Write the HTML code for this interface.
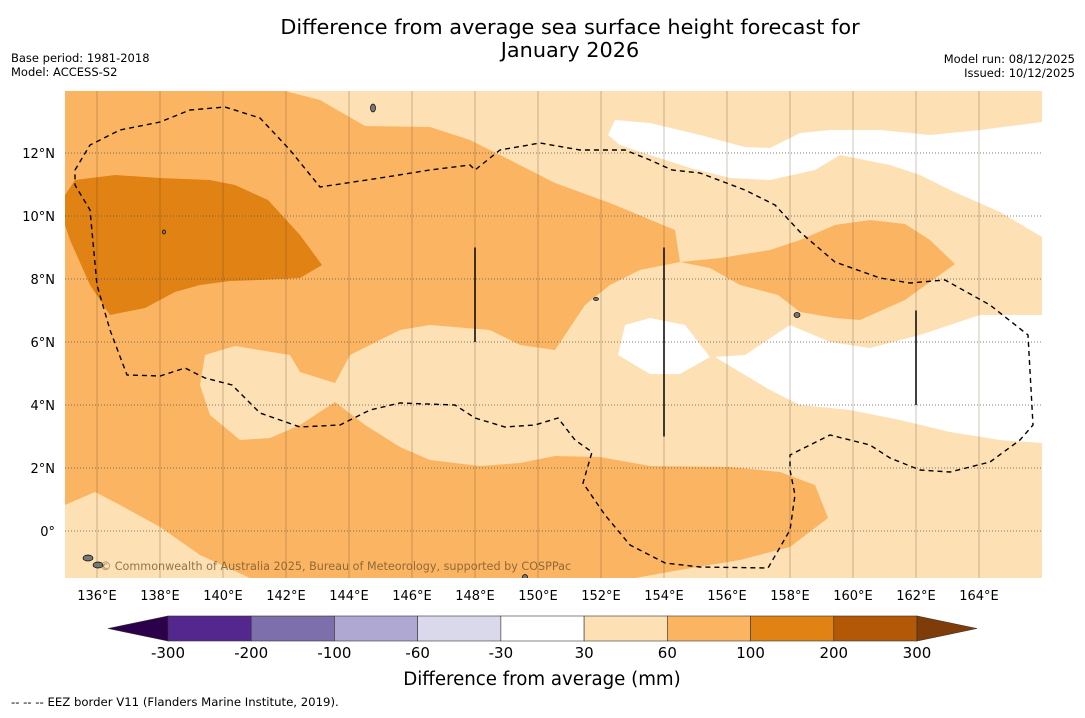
<!DOCTYPE html>
<html><head><meta charset="utf-8">
<style>
body{margin:0;background:#fff;width:1085px;height:713px;overflow:hidden;font-family:"Liberation Sans","DejaVu Sans",sans-serif;}
svg text{font-family:"DejaVu Sans","Liberation Sans",sans-serif;}
</style></head>
<body>
<svg id="c" width="1085" height="713">
<text x="570" y="34" text-anchor="middle" font-size="20.8">Difference from average sea surface height forecast for</text>
<text x="570" y="57" text-anchor="middle" font-size="20.8">January 2026</text>
<text x="11" y="62" font-size="11.5">Base period: 1981-2018</text>
<text x="11" y="76" font-size="11.5">Model: ACCESS-S2</text>
<text x="1075" y="63" font-size="11.5" text-anchor="end">Model run: 08/12/2025</text>
<text x="1075" y="77" font-size="11.5" text-anchor="end">Issued: 10/12/2025</text>
<defs><clipPath id="mapclip"><rect x="65" y="91" width="977" height="487"/></clipPath></defs>
<g id="map" clip-path="url(#mapclip)"></g>
<g id="axes"></g>
<g id="cbar"></g>
<text x="542" y="685" text-anchor="middle" font-size="18.2">Difference from average (mm)</text>
<text x="11" y="706" font-size="11.7">--  --  -- EEZ border V11 (Flanders Marine Institute, 2019).</text>
</svg>
<script>
const lonTicks=[136,138,140,142,144,146,148,150,152,154,156,158,160,162,164];
const latTicks=[12,10,8,6,4,2,0];
const cbLevels=[-300,-200,-100,-60,-30,30,60,100,200,300];
const cbColors=["#54278f","#7d6fab","#aea8d2","#d9d9eb","#ffffff","#fde0b4","#fbb562","#e08214","#b35806"];
// contour polygons (map pixel vertices)
const orangeMain=[[65,91],[285,91],[320,100],[365,126],[430,127],[470,140],[510,160],[555,183],[610,203],[675,230],[680,262],[640,270],[610,285],[585,305],[555,350],[520,345],[490,330],[430,325],[400,330],[350,355],[335,383],[300,372],[290,355],[235,346],[205,355],[200,385],[210,415],[240,440],[270,438],[300,425],[335,402],[365,425],[400,447],[430,460],[480,466],[520,463],[555,456],[600,457],[650,466],[730,467],[780,472],[815,485],[828,518],[790,547],[740,560],[680,570],[635,578],[250,578],[200,555],[160,527],[120,505],[95,492],[65,505]];
const orangeBump=[[680,262],[720,258],[770,250],[800,240],[835,225],[870,220],[905,224],[930,240],[955,264],[930,282],[905,300],[860,320],[835,318],[800,312],[778,295],[740,285],[710,268]];
const lightBlob=[[442,388],[460,370],[483,390],[460,398]];
const darkOrange=[[65,195],[75,180],[115,175],[160,178],[210,180],[235,185],[268,200],[300,235],[322,265],[300,278],[260,280],[230,281],[200,285],[175,292],[145,308],[110,315],[90,285],[70,240],[65,225]];
const whiteTop=[[608,135],[615,120],[650,123],[700,135],[745,147],[770,148],[800,133],[830,130],[880,130],[930,135],[980,130],[1042,122],[1042,237],[1000,212],[950,190],[920,175],[890,165],[840,155],[815,170],[770,180],[730,178],[690,168],[650,155],[620,145]];
const whiteRight=[[715,357],[745,355],[790,325],[830,342],[870,348],[920,335],[980,315],[1042,315],[1042,443],[1000,440],[950,432],[900,420],[850,410],[800,405],[770,390],[745,375]];
const whiteSmall=[[618,355],[625,325],[650,318],[685,325],[710,357],[680,374],[650,374]];
const eez=[[75,170],[90,145],[120,130],[160,122],[190,110],[225,107],[260,118],[290,150],[320,187],[380,178],[430,170],[470,165],[475,170],[500,150],[540,143],[580,150],[625,150],[650,160],[672,170],[700,173],[745,190],[775,205],[800,232],[835,262],[880,278],[910,283],[945,280],[990,305],[1028,335],[1033,425],[1020,440],[990,462],[950,472],[920,470],[890,458],[870,445],[830,435],[810,445],[790,455],[790,470],[795,495],[790,530],[768,568],[700,567],[665,563],[630,545],[605,515],[583,483],[592,452],[575,440],[558,418],[535,425],[505,427],[475,418],[455,405],[400,403],[370,410],[340,425],[300,427],[260,413],[232,385],[205,378],[185,368],[160,376],[127,375],[110,330],[97,285],[90,210],[75,185],[75,170]];
const eezVerticals=[[148,6,9],[154,3,9],[162,4,7]];
const NS="http://www.w3.org/2000/svg";
const xL=lon=>65.5+(lon-135)*31.5, yL=lat=>531-lat*31.5;
function mk(t,a,p){const e=document.createElementNS(NS,t);for(const k in a)e.setAttribute(k,a[k]);p.appendChild(e);return e;}
const map=document.getElementById('map'),axes=document.getElementById('axes'),cb=document.getElementById('cbar');
let bg=mk('rect',{x:65,y:91,width:977,height:487,fill:'#fde0b4'},map);


function poly(pts,fill,name){const p=mk('polygon',{points:pts.map(q=>q.join(',')).join(' '),fill:fill},map);

}
poly(orangeMain,'#fbb562','contour-60-100-main');
poly(orangeBump,'#fbb562','contour-60-100-east');
poly(lightBlob,'#fde0b4','contour-30-60-blob');
poly(darkOrange,'#e08214','contour-100-200');
poly(whiteTop,'#ffffff','contour-neutral-north');
poly(whiteRight,'#ffffff','contour-neutral-east');
poly(whiteSmall,'#ffffff','contour-neutral-small');
lonTicks.forEach(l=>{const g=mk('line',{x1:xL(l),x2:xL(l),y1:91,y2:578,stroke:'rgba(90,60,30,0.3)','stroke-width':1},map);


const t=mk('text',{x:xL(l),y:600,'text-anchor':'middle','font-size':13},axes);t.textContent=l+'°E';

});
latTicks.forEach(l=>{const g=mk('line',{x1:65,x2:1042,y1:yL(l),y2:yL(l),stroke:'#555','stroke-width':0.8,'stroke-dasharray':'1,2'},map);


const t=mk('text',{x:55,y:yL(l)+5,'text-anchor':'end','font-size':13},axes);t.textContent=l===0?'0°':l+'°N';

});
const ez=mk('polyline',{points:eez.map(q=>q.join(',')).join(' '),fill:'none',stroke:'#000','stroke-width':1.4,'stroke-dasharray':'5,4'},map);


eezVerticals.forEach(v=>{const l=mk('line',{x1:xL(v[0]),x2:xL(v[0]),y1:yL(v[2]),y2:yL(v[1]),stroke:'#000','stroke-width':1.5},map);

});
const isl=[[373,108,2.5,4],[88,558,5,3],[98,565,5,3],[596,299,2.5,1.5],[797,315,3,2.5],[164,232,1.5,2],[525,577,2.5,2.5]];
isl.forEach(i=>{const e=mk('ellipse',{cx:i[0],cy:i[1],rx:i[2],ry:i[3],fill:'#777',stroke:'#000','stroke-width':0.7},map);

});
const wm=mk('text',{x:100,y:570,'font-size':11.2,fill:'rgba(110,80,40,0.75)'},map);wm.textContent='© Commonwealth of Australia 2025, Bureau of Meteorology, supported by COSPPac';


const x0=168,x1=917,cy0=616,cy1=641,w=(x1-x0)/cbColors.length;
cbColors.forEach((c,i)=>{const r=mk('rect',{x:x0+i*w,y:cy0,width:w,height:cy1-cy0,fill:c,stroke:'#333','stroke-width':0.6},cb);

});
const tl=mk('polygon',{points:`108,628.5 ${x0},${cy0} ${x0},${cy1}`,fill:'#2d004b',stroke:'#333','stroke-width':0.6},cb);


const tr=mk('polygon',{points:`977,628.5 ${x1},${cy0} ${x1},${cy1}`,fill:'#7f3b08',stroke:'#333','stroke-width':0.6},cb);


cbLevels.forEach((v,i)=>{const t=mk('text',{x:x0+i*w,y:658,'text-anchor':'middle','font-size':15},cb);t.textContent=v;

});
</script>
</body></html>
